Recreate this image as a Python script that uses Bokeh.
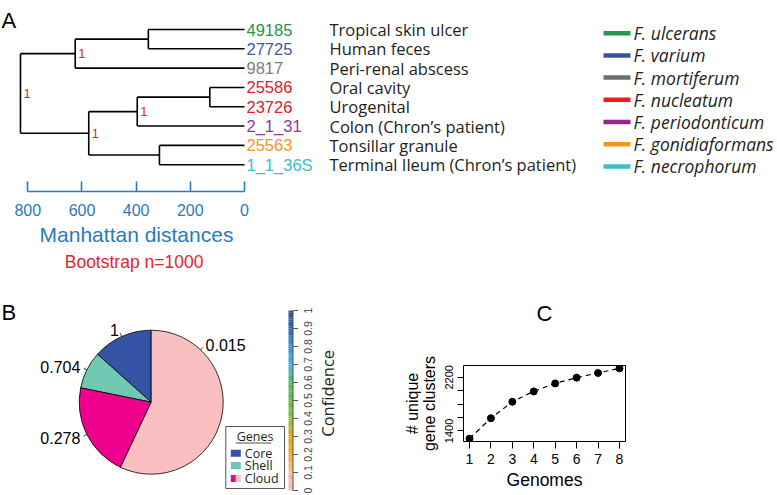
import math
import numpy as np
from bokeh.plotting import figure
from bokeh.models import (Range1d, LinearAxis, FixedTicker, Label, ColumnDataSource)
from bokeh.layouts import column, row
from bokeh.embed import file_html
from bokeh.resources import INLINE
from bokeh.core.properties import value

# ------------------------------------------------------------------ data
leaf_ids = ["49185", "27725", "9817", "25586", "23726", "2_1_31", "25563", "1_1_36S"]
leaf_colors = ["#22964b", "#3d58a8", "#7d7d7d", "#e0202a", "#e0202a", "#8c3a97", "#f7941d", "#3bbfc5"]
leaf_sources = ["Tropical skin ulcer", "Human feces", "Peri-renal abscess", "Oral cavity",
                "Urogenital", "Colon (Chron\u2019s patient)", "Tonsillar granule",
                "Terminal Ileum (Chron\u2019s patient)"]
# hclust-style merges (negative = leaf index, positive = earlier merge)
merge_a = [-1, -4, -7, 1, 2, 5, 4]
merge_b = [-2, -5, -8, -3, -6, 3, 6]
merge_height = [355, 128, 314, 625, 396, 575, 827]
merge_boot = [None, None, None, 1, 1, 1, 1]
dist_ticks = [0, 200, 400, 600, 800]

species = ["F. ulcerans", "F. varium", "F. mortiferum", "F. nucleatum", "F. periodonticum",
           "F. gonidiaformans", "F. necrophorum"]
species_colors = ["#1f9a4e", "#3953a4", "#6d6e71", "#ed1c24", "#92278f", "#f7941d", "#3cbfc7"]

pie_groups = ["Core", "Shell", "Cloud", "Cloud"]
pie_values = [13.4, 8.4, 21.2, 57.0]
pie_labels = ["1", "0.704", "0.278", "0.015"]
pie_colors = ["#3553a4", "#6fc9b2", "#ec008c", "#f9bfc1"]

conf_ticks = [0, 0.1, 0.2, 0.3, 0.4, 0.5, 0.6, 0.7, 0.8, 0.9, 1]
conf_tick_labels = ["0", "0.1", "0.2", "0.3", "0.4", "0.5", "0.6", "0.7", "0.8", "0.9", "1"]
conf_colors = ["#f7b8bf", "#f6bd98", "#f7a235", "#e0a81f", "#8dbd3c", "#5fb947",
               "#58b85a", "#3fb5d9", "#3a8fd2", "#3562ae", "#3452a2"]

genomes = [1, 2, 3, 4, 5, 6, 7, 8]
unique_clusters = [1285, 1590, 1835, 1990, 2109, 2195, 2265, 2334]
cluster_ticks = [1400, 1600, 1800, 2000, 2200]

# ------------------------------------------------------------------ styles
SANS = "Liberation Sans"
HUM = "Open Sans"
BLUE = "#2a7abf"
RED = "#e3262d"
INK = "#231f20"

W, H = 777, 495
HA = 181          # tree + labels
HAX = 107         # distance axis strip
HB = H - HA - HAX


def no_align(p):
    try:
        p.frame_align = False
    except Exception:
        pass


# ================================================================== panel A
pxu = 216.7 / 800.0          # px per distance unit
zero_px = 244.0              # x of distance 0
leaf_px = 19.314
leaf1_px = 29.0
ya_top = 1 - leaf1_px / leaf_px
ya_bot = 1 + (HA - leaf1_px) / leaf_px

pA = figure(width=W, height=HA, x_range=Range1d(zero_px / pxu, -(W - zero_px) / pxu),
            y_range=Range1d(ya_bot, ya_top), output_backend="svg", toolbar_location=None,
            x_axis_location=None, y_axis_location=None, min_border=0,
            min_border_left=0, min_border_right=0, min_border_top=0, min_border_bottom=0,
            outline_line_color=None)
pA.grid.visible = False
no_align(pA)

n_leaf = len(leaf_ids)
leaf_y = list(range(1, n_leaf + 1))
node_y, node_h = {}, {}
x0s, y0s, x1s, y1s = [], [], [], []
bx, by, bt = [], [], []


def child_pos(c):
    if c < 0:
        return 0.0, float(leaf_y[-c - 1])
    return node_h[c], node_y[c]


for k, (a, b, h, bs) in enumerate(zip(merge_a, merge_b, merge_height, merge_boot), start=1):
    ha_, ya_ = child_pos(a)
    hb_, yb_ = child_pos(b)
    node_h[k] = h
    node_y[k] = (ya_ + yb_) / 2.0
    x0s += [h, ha_, hb_]
    x1s += [h, h, h]
    y0s += [ya_, ya_, yb_]
    y1s += [yb_, ya_, yb_]
    if bs is not None:
        bx.append(h)
        by.append(node_y[k])
        bt.append(str(bs))

pA.segment(x0=x0s, y0=y0s, x1=x1s, y1=y1s, line_color="black", line_width=1.6)

leaf_src = ColumnDataSource(dict(x=[0] * n_leaf, y=leaf_y, t=leaf_ids, c=leaf_colors, s=leaf_sources))
pA.text(x="x", y="y", text="t", text_color="c", source=leaf_src, x_offset=2,
        text_font=value(SANS), text_font_size="16.5px", text_baseline="middle", text_align="left")
pA.text(x="x", y="y", text="s", source=leaf_src, x_offset=85, text_color=INK,
        text_font=value(HUM), text_font_size="16.5px", text_baseline="middle", text_align="left")
pA.text(x=bx, y=by, text=bt, x_offset=3, text_color=RED, text_font=value(SANS),
        text_font_size="13px", text_baseline="middle", text_align="left")

# species key (swatch + italic name), rows 22.2 px apart
key_rows = np.arange(len(species))
key_y = list(1 + (32.7 + 22.2 * key_rows - leaf1_px) / leaf_px)
key_x0 = (zero_px - 603) / pxu
key_x1 = (zero_px - 630) / pxu
pA.segment(x0=[key_x0] * len(species), x1=[key_x1] * len(species), y0=key_y, y1=key_y,
           line_color=species_colors, line_width=4.5)
pA.text(x=[key_x1] * len(species), y=key_y, text=species, x_offset=3, text_color=INK,
        text_font=value(HUM), text_font_style="italic", text_font_size="17.5px",
        text_baseline="middle", text_align="left")

pA.add_layout(Label(x=1, y=HA - 20, x_units="screen", y_units="screen", text="A",
                    text_font=SANS, text_font_size="22px", text_baseline="alphabetic",
                    text_color="black"))

# distance axis strip (frame is a thin band whose centre is the axis centre)
AX_W = 272
AX_FRAME_H = 10
pAx = figure(width=AX_W, height=HAX, x_range=Range1d(zero_px / pxu, -(AX_W - zero_px) / pxu),
             y_range=Range1d(0, 1), output_backend="svg", toolbar_location=None,
             x_axis_location=None, y_axis_location=None, min_border=0,
             min_border_left=0, min_border_right=0, min_border_top=0,
             min_border_bottom=HAX - AX_FRAME_H, outline_line_color=None)
pAx.grid.visible = False
no_align(pAx)

axA = LinearAxis(ticker=FixedTicker(ticks=dist_ticks), bounds=(0, 800),
                 axis_label="Manhattan distances")
axA.major_tick_in = 10
axA.major_tick_out = 0
axA.minor_tick_in = 0
axA.minor_tick_out = 0
axA.axis_line_color = BLUE
axA.axis_line_width = 1.6
axA.major_tick_line_color = BLUE
axA.major_tick_line_width = 1.6
axA.major_label_text_color = BLUE
axA.major_label_text_font = SANS
axA.major_label_text_font_size = "16px"
axA.major_label_standoff = 12
axA.axis_label_text_color = BLUE
axA.axis_label_text_font = SANS
axA.axis_label_text_font_size = "21px"
axA.axis_label_text_font_style = "normal"
axA.axis_label_standoff = 4
pAx.add_layout(axA, "below")

axA2 = LinearAxis(ticker=FixedTicker(ticks=[]), bounds=(0, 800), axis_label="Bootstrap  n=1000")
axA2.axis_line_color = None
axA2.major_tick_line_color = None
axA2.minor_tick_line_color = None
axA2.major_tick_in = 0
axA2.major_tick_out = 0
axA2.minor_tick_in = 0
axA2.minor_tick_out = 0
axA2.major_label_standoff = 0
axA2.major_label_text_font_size = "0px"
axA2.axis_label_text_color = RED
axA2.axis_label_text_font = SANS
axA2.axis_label_text_font_size = "17.5px"
axA2.axis_label_text_font_style = "normal"
axA2.axis_label_standoff = 3
pAx.add_layout(axA2, "below")

# ================================================================== panel B
WB = 345
cxB, cyB = 150.7, 401.7 - (HA + HAX)   # pie centre inside the frame (from left / top)
PIE_R = 72.0
pB = figure(width=WB, height=HB, x_range=Range1d(-cxB, WB - cxB),
            y_range=Range1d(cyB - HB, cyB), output_backend="svg", toolbar_location=None,
            x_axis_location=None, y_axis_location=None, min_border=0,
            min_border_left=0, min_border_top=0, min_border_bottom=0, min_border_right=0,
            outline_line_color=None)
pB.grid.visible = False
no_align(pB)

vals = np.array(pie_values, dtype=float)
frac = vals / vals.sum()
starts = math.pi / 2 + 2 * math.pi * np.concatenate([[0], np.cumsum(frac)[:-1]])
ends = starts + 2 * math.pi * frac
pB.wedge(x=0, y=0, radius=PIE_R, start_angle=list(starts), end_angle=list(ends),
         fill_color=pie_colors, line_color="black", line_width=0.8)

label_ang = list((starts + ends) / 2)
label_ang[3] = math.radians(46.6)
lx0 = [PIE_R * math.cos(a) for a in label_ang]
ly0 = [PIE_R * math.sin(a) for a in label_ang]
lx1 = [1.05 * PIE_R * math.cos(a) for a in label_ang]
ly1 = [1.05 * PIE_R * math.sin(a) for a in label_ang]
tx = [1.1 * PIE_R * math.cos(a) for a in label_ang]
ty = [1.1 * PIE_R * math.sin(a) for a in label_ang]
talign = ["right" if math.cos(a) < 0 else "left" for a in label_ang]
pB.segment(x0=lx0, y0=ly0, x1=lx1, y1=ly1, line_color="black", line_width=0.8)
pB.text(x=tx, y=ty, text=pie_labels, text_align=talign, text_baseline="middle",
        text_font=value(SANS), text_font_size="16px", text_color="black")

# colour bar for confidence (own vertical scale "conf")
conf_lo_px, conf_hi_px = 5.0, 185.0   # px above frame bottom for 0 and 1
span = conf_hi_px - conf_lo_px
pB.extra_y_ranges = {"conf": Range1d(-conf_lo_px / span, (HB - conf_lo_px) / span)}
grad_n = 100
gy = np.linspace(0, 1, grad_n + 1)
stops = np.array(conf_ticks)
rgb = np.array([[int(c[i:i + 2], 16) for i in (1, 3, 5)] for c in conf_colors], dtype=float)
mid = (gy[:-1] + gy[1:]) / 2
cols = ["#%02x%02x%02x" % tuple(int(round(np.interp(m, stops, rgb[:, j]))) for j in range(3)) for m in mid]
bar_right = 292.5 - cxB
bar_left = bar_right - 4.5
pB.quad(left=bar_left, right=bar_right, bottom=list(gy[:-1]), top=list(gy[1:]),
        fill_color=cols, line_color=None, y_range_name="conf")
nt = len(conf_ticks)
pB.segment(x0=[bar_right], x1=[bar_right], y0=[conf_ticks[0]], y1=[conf_ticks[-1]],
           line_color="#333333", line_width=0.8, y_range_name="conf")
pB.segment(x0=[bar_right] * nt, x1=[bar_right + 5] * nt, y0=conf_ticks, y1=conf_ticks,
           line_color="#333333", line_width=0.8, y_range_name="conf")
pB.text(x=[bar_right + 14.5] * nt, y=conf_ticks, text=conf_tick_labels, angle=math.pi / 2,
        text_align="center", text_baseline="middle", text_font=value(SANS),
        text_font_size="10.5px", text_color="#444444", y_range_name="conf")
pB.text(x=[bar_right + 34.5], y=[(conf_ticks[0] + conf_ticks[-1]) / 2 + 0.04],
        text=["Confidence"], angle=math.pi / 2, text_align="center", text_baseline="middle",
        text_font=value(HUM), text_font_size="16.5px", text_color=INK, y_range_name="conf")

# "Genes" legend box (pie centre at 0,0; y up)
lg_l, lg_r = 225.3 - 150.7, 284.0 - 150.7
lg_t, lg_b = 401.7 - 426.0, 401.7 - 488.0
pB.quad(left=[lg_l], right=[lg_r], top=[lg_t], bottom=[lg_b], fill_color="white",
        line_color="#555555", line_width=1)
pB.text(x=[lg_l + 29.3], y=[lg_t - 10], text=["Genes"], text_align="center",
        text_baseline="middle", text_font=value(HUM), text_font_size="12.5px", text_color=INK)
pB.segment(x0=[lg_l + 10], x1=[lg_l + 45.5], y0=[lg_t - 16.5], y1=[lg_t - 16.5],
           line_color=INK, line_width=0.8)
leg_rows = ["Core", "Shell", "Cloud"]
row_y = [lg_t - 26.7, lg_t - 39, lg_t - 52]
sq_l = lg_l + 5
pB.quad(left=[sq_l, sq_l, sq_l, sq_l + 5], right=[sq_l + 10, sq_l + 10, sq_l + 5, sq_l + 10],
        top=[row_y[0] + 3.5, row_y[1] + 3.5, row_y[2] + 3.5, row_y[2] + 3.5],
        bottom=[row_y[0] - 3.5, row_y[1] - 3.5, row_y[2] - 3.5, row_y[2] - 3.5],
        fill_color=[pie_colors[0], pie_colors[1], pie_colors[2], pie_colors[3]], line_color=None)
pB.text(x=[sq_l + 14] * 3, y=row_y, text=leg_rows, text_baseline="middle", text_align="left",
        text_font=value(HUM), text_font_size="12.5px", text_color=INK)

pB.add_layout(Label(x=1, y=HB - (312 - HA - HAX), x_units="screen", y_units="screen", text="B",
                    text_font=SANS, text_font_size="22px", text_baseline="alphabetic",
                    text_color="black"))

# ================================================================== panel C
WC = W - WB
C_left, C_frame_w, C_top, C_frame_h = 118, 162, 365 - (HA + HAX), 76
gx = np.array(genomes, dtype=float)
gyv = np.array(unique_clusters, dtype=float)
xpad = 0.04 * (gx.max() - gx.min())
ypad = 0.04 * (gyv.max() - gyv.min())
pC = figure(width=WC, height=HB, x_range=Range1d(gx.min() - xpad, gx.max() + xpad),
            y_range=Range1d(gyv.min() - ypad, gyv.max() + ypad), output_backend="svg",
            toolbar_location=None, x_axis_location=None, y_axis_location=None, min_border=0,
            min_border_left=C_left, min_border_right=WC - C_left - C_frame_w,
            min_border_top=C_top, min_border_bottom=HB - C_top - C_frame_h,
            outline_line_color="black", outline_line_width=1)
pC.grid.visible = False
no_align(pC)
pC.line(x=genomes, y=unique_clusters, line_dash="5 4", line_color="black", line_width=1.2)
pC.scatter(x=genomes, y=unique_clusters, size=7, fill_color="black", line_color="black")

axCx = LinearAxis(ticker=FixedTicker(ticks=genomes), bounds=(1, 8), axis_label="Genomes")
axCy = LinearAxis(ticker=FixedTicker(ticks=cluster_ticks), bounds=(1400, 2200),
                  axis_label="# unique\ngene clusters",
                  major_label_overrides={1600: "", 1800: "", 2000: ""})
for ax in (axCx, axCy):
    ax.minor_tick_in = 0
    ax.minor_tick_out = 0
    ax.major_tick_in = 0
    ax.axis_line_color = "black"
    ax.major_tick_line_color = "black"
    ax.major_label_text_font = SANS
    ax.major_label_text_color = "black"
    ax.axis_label_text_font = SANS
    ax.axis_label_text_font_style = "normal"
    ax.axis_label_text_color = "black"
axCx.major_tick_out = 7
axCx.major_label_text_font_size = "14px"
axCx.major_label_standoff = 5
axCx.axis_label_text_font_size = "17.5px"
axCx.axis_label_standoff = 3
axCy.major_tick_out = 6
axCy.major_label_orientation = "parallel"
axCy.major_label_text_font_size = "11px"
axCy.major_label_standoff = 4
axCy.axis_label_text_font_size = "16px"
axCy.axis_label_text_line_height = 1.0
axCy.axis_label_standoff = 5
pC.add_layout(axCx, "below")
pC.add_layout(axCy, "left")

# panel letter "C" as an empty top axis label
axCt = LinearAxis(ticker=FixedTicker(ticks=[]), axis_label="C")
axCt.axis_line_color = None
axCt.major_tick_line_color = None
axCt.minor_tick_line_color = None
axCt.major_tick_in = 0
axCt.major_tick_out = 0
axCt.minor_tick_in = 0
axCt.minor_tick_out = 0
axCt.major_label_standoff = 0
axCt.major_label_text_font_size = "0px"
axCt.axis_label_text_font = SANS
axCt.axis_label_text_font_size = "22px"
axCt.axis_label_text_font_style = "normal"
axCt.axis_label_text_color = "black"
axCt.axis_label_standoff = 40
pC.add_layout(axCt, "above")

layout = column(pA, pAx, row(pB, pC))
open("out.html", "w").write(file_html(layout, INLINE))
